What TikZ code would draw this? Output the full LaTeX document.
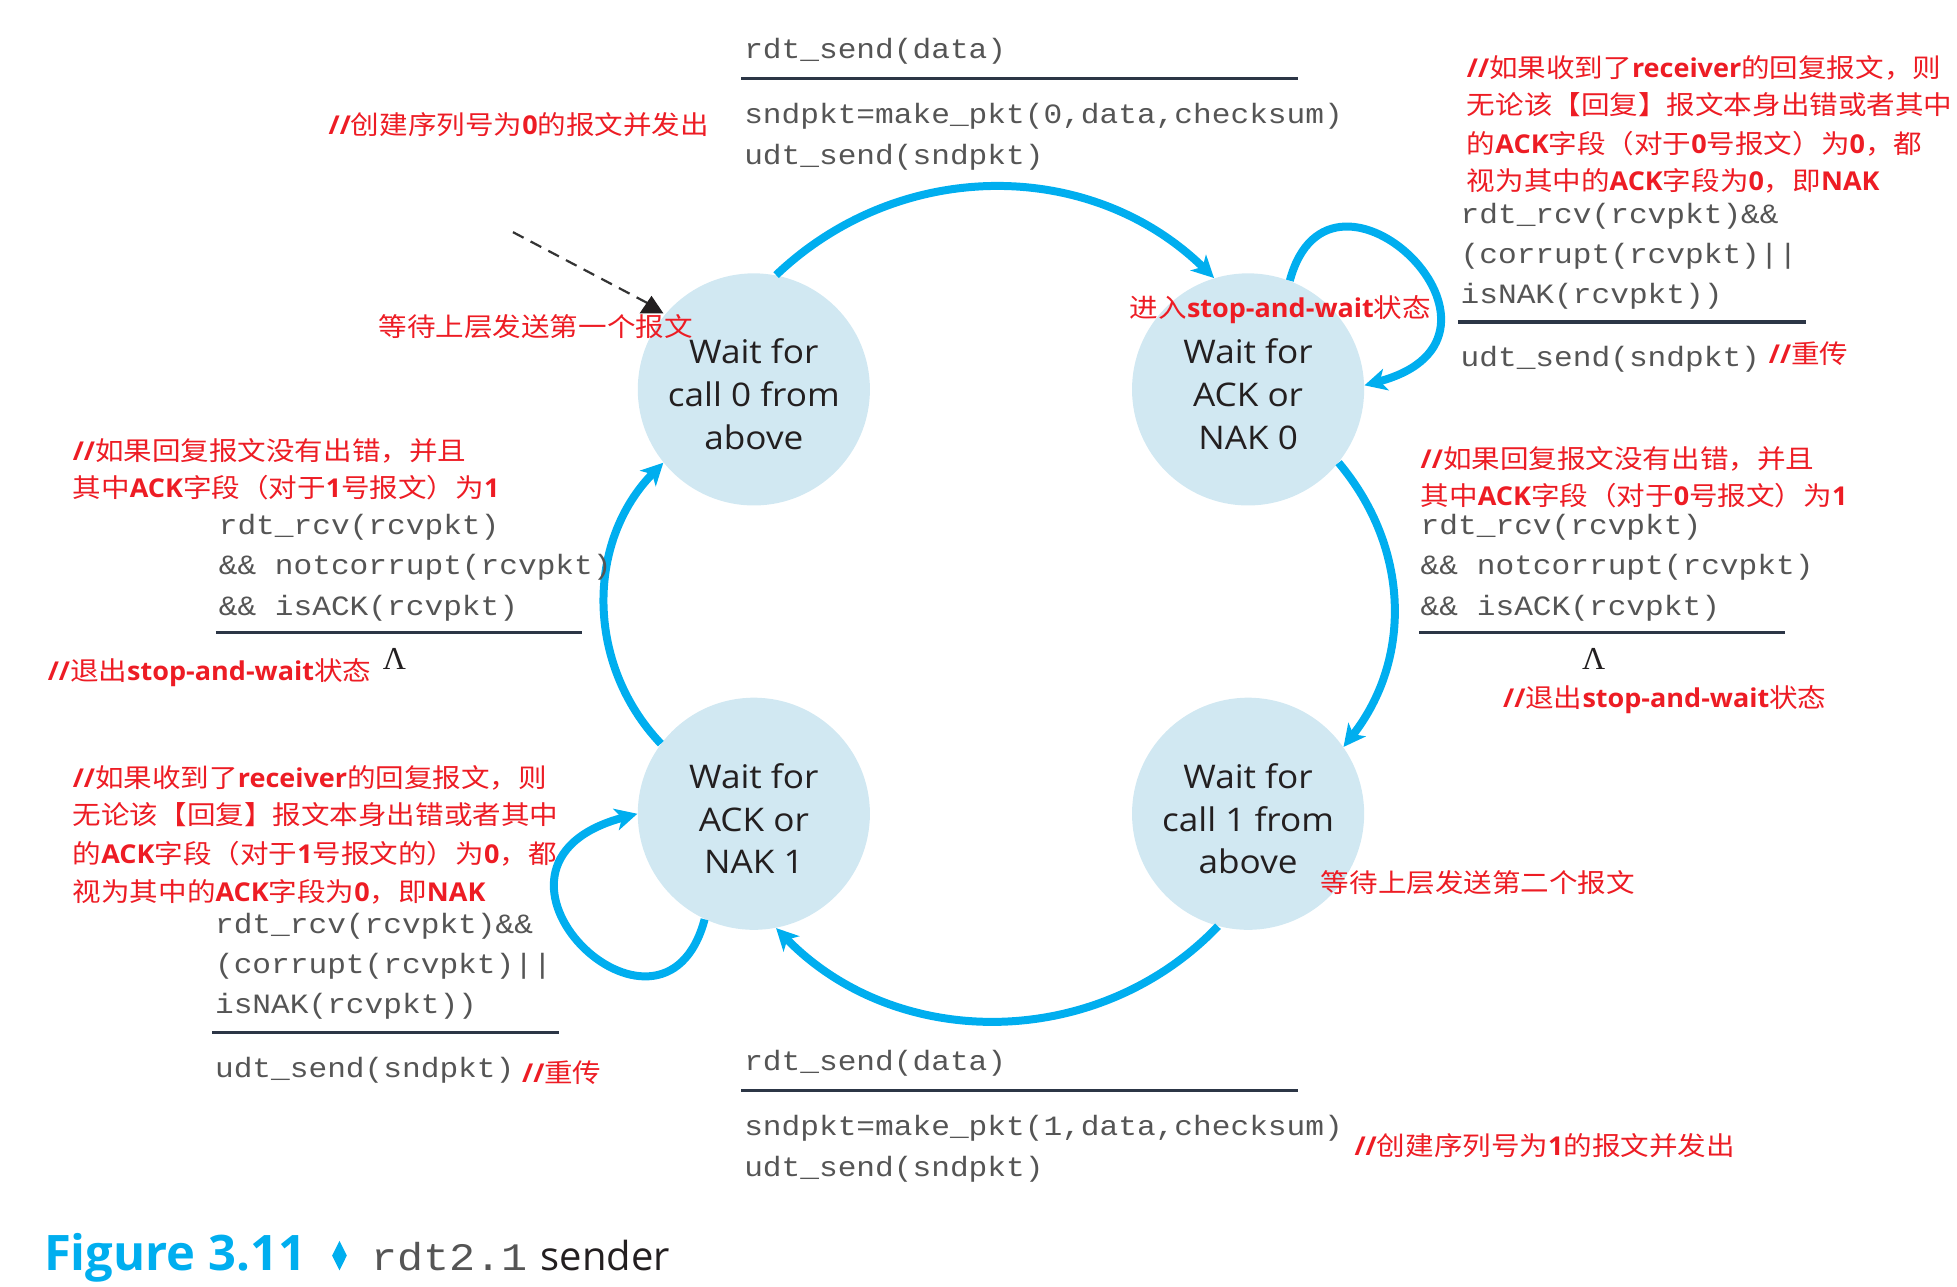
\documentclass[tikz,border=0pt]{standalone}
\usepackage{fontspec}
\usetikzlibrary{arrows.meta,shapes.geometric}
\setmainfont{Open Sans}
\newfontfamily\circfont{Open Sans}[FakeStretch=1.08]
\newfontfamily\codefont{Liberation Mono}[FakeStretch=1.115]
\newfontfamily\cjkfont{Noto Sans CJK SC}[FakeStretch=1.1]
\newfontfamily\latfont{Open Sans}[FakeStretch=1.04]
\newfontfamily\lamfont{Liberation Serif}
\newfontfamily\capfont{Open Sans}
\newcommand\lb[1]{{\latfont\bfseries #1}}
\newcommand\topstrut{\rule{0pt}{17.5pt}}
\definecolor{arcblue}{RGB}{0,174,239}
\definecolor{statefill}{RGB}{209,232,242}
\definecolor{statetext}{RGB}{35,31,32}
\definecolor{codegray}{RGB}{85,85,85}
\definecolor{rulecol}{RGB}{44,54,70}
\definecolor{notered}{RGB}{237,28,36}
\begin{document}
\begin{tikzpicture}[x=0.625pt,y=0.625pt,
  state/.style={circle, fill=statefill, minimum size=116.25pt, inner sep=0pt, align=center,
    text=statetext, font=\circfont\fontsize{16.3}{21.4}\selectfont},
  code/.style={anchor=base west, inner sep=0pt, text=codegray, font=\codefont\fontsize{14}{20}\selectfont},
  note/.style={anchor=base west, inner sep=0pt, text=notered, font=\cjkfont\fontsize{13}{18.75}\selectfont},
  lam/.style={inner sep=0pt, text=statetext, font=\lamfont\fontsize{16}{18}\selectfont},
  rule/.style={draw=rulecol, line width=1.6pt},
  trans/.style={draw=arcblue, line width=4pt, -{Stealth[length=11pt,width=11pt,inset=3pt]}},
  initline/.style={draw=black!80, line width=1.1pt, dash pattern=on 6pt off 4pt}]
\useasboundingbox (0,0) rectangle (1568,-1031);

% states
\node[state] (A) at (604,-312) {\topstrut Wait for\\call 0 from\\above};
\node[state] (B) at (1000,-312) {\topstrut Wait for\\ACK or\\NAK 0};
\node[state] (C) at (604,-652) {\topstrut Wait for\\ACK or\\NAK 1};
\node[state] (D) at (1000,-652) {\topstrut Wait for\\call 1 from\\above};

% transitions
\draw[trans] (A.79) to[bend left=44] (B.107);
\draw[trans] (B.-39) to[bend left=39] (D.35);
\draw[trans] (D.-105) to[bend left=46] (C.-79);
\draw[trans] (C.143) to[bend left=44] (A.-141);
\draw[trans] (B.69) .. controls +(75:125) and +(15:150) .. (B.2);
\draw[trans] (C.-115) .. controls +(-105:130) and +(195:160) .. (C.180);

% initial dashed arrow
\coordinate (init) at (411,-186);
\coordinate (inittip) at (521,-244);
\draw[initline] (init) -- (inittip);
\fill[statetext] (522,-237) -- (512.5,-251) -- (531.5,-251) -- cycle;

% top transition label
\node[code] (t1) at (596,-47) {rdt\_send(data)};
\draw[rule] (594,-63) -- (1040,-63);
\node[code] (t2) at (596,-99) {sndpkt=make\_pkt(0,data,checksum)};
\node[code] (t3) at (596,-132) {udt\_send(sndpkt)};
\node[note] (n1) at (263,-108) {\lb{//}创建序列号为\lb{0}的报文并发出};

% top-right self loop label
\node[note] (n2a) at (1175,-62) {\lb{//}如果收到了\lb{receiver}的回复报文，则};
\node[note] (n2b) at (1175,-92) {无论该【回复】报文本身出错或者其中};
\node[note] (n2c) at (1175,-123) {的\lb{ACK}字段（对于\lb{0}号报文）为\lb{0}，都};
\node[note] (n2d) at (1175,-153) {视为其中的\lb{ACK}字段为\lb{0}，即\lb{NAK}};
\node[code] (s1) at (1170,-179) {rdt\_rcv(rcvpkt)\&\&};
\node[code] (s2) at (1170,-211) {(corrupt(rcvpkt)||};
\node[code] (s3) at (1170,-243) {isNAK(rcvpkt))};
\draw[rule] (1168,-258) -- (1447,-258);
\node[code] (s4) at (1170,-294) {udt\_send(sndpkt)};
\node[note] (n3) at (1417,-291) {\lb{//}重传};
\node[note] (n4) at (905,-254) {进入\lb{stop-and-wait}状态};
\node[note] (n5) at (303,-270) {等待上层发送第一个报文};

% left transition label
\node[note] (n6a) at (58,-369) {\lb{//}如果回复报文没有出错，并且};
\node[note] (n6b) at (58,-399) {其中\lb{ACK}字段（对于\lb{1}号报文）为\lb{1}};
\node[code] (l1) at (175,-428) {rdt\_rcv(rcvpkt)};
\node[code] (l2) at (175,-460) {\&\& notcorrupt(rcvpkt)};
\node[code] (l3) at (175,-493) {\&\& isACK(rcvpkt)};
\draw[rule] (173,-507) -- (466,-507);
\node[lam] (lam1) at (316,-528) {Λ};
\node[note] (n7) at (38,-545) {\lb{//}退出\lb{stop-and-wait}状态};

% right transition label
\node[note] (n8a) at (1138,-375) {\lb{//}如果回复报文没有出错，并且};
\node[note] (n8b) at (1138,-405) {其中\lb{ACK}字段（对于\lb{0}号报文）为\lb{1}};
\node[code] (r1) at (1138,-428) {rdt\_rcv(rcvpkt)};
\node[code] (r2) at (1138,-460) {\&\& notcorrupt(rcvpkt)};
\node[code] (r3) at (1138,-493) {\&\& isACK(rcvpkt)};
\draw[rule] (1137,-507) -- (1430,-507);
\node[lam] (lam2) at (1277,-528) {Λ};
\node[note] (n9) at (1204,-567) {\lb{//}退出\lb{stop-and-wait}状态};

% lower-left self loop label
\node[note] (n10a) at (58,-631) {\lb{//}如果收到了\lb{receiver}的回复报文，则};
\node[note] (n10b) at (58,-661) {无论该【回复】报文本身出错或者其中};
\node[note] (n10c) at (58,-692) {的\lb{ACK}字段（对于\lb{1}号报文的）为\lb{0}，都};
\node[note] (n10d) at (58,-722) {视为其中的\lb{ACK}字段为\lb{0}，即\lb{NAK}};
\node[code] (c1) at (172,-748) {rdt\_rcv(rcvpkt)\&\&};
\node[code] (c2) at (172,-780) {(corrupt(rcvpkt)||};
\node[code] (c3) at (172,-812) {isNAK(rcvpkt))};
\draw[rule] (170,-827) -- (448,-827);
\node[code] (c4) at (172,-863) {udt\_send(sndpkt)};
\node[note] (n11) at (418,-867) {\lb{//}重传};
\node[note] (n12) at (1058,-715) {等待上层发送第二个报文};

% bottom transition label
\node[code] (b1) at (596,-858) {rdt\_send(data)};
\draw[rule] (594,-874) -- (1040,-874);
\node[code] (b2) at (596,-910) {sndpkt=make\_pkt(1,data,checksum)};
\node[code] (b3) at (596,-943) {udt\_send(sndpkt)};
\node[note] (n13) at (1085,-926) {\lb{//}创建序列号为\lb{1}的报文并发出};

% caption
\node[anchor=base west, inner sep=0pt, text=arcblue, font=\capfont\bfseries\fontsize{24.5}{28}\selectfont] (fig) at (35,-1018) {Figure 3.11};
\node[diamond, fill=arcblue, minimum width=7.5pt, minimum height=15pt, inner sep=0pt, aspect=0.5] (dia) at (272,-1006) {};
\node[anchor=base west, inner sep=0pt, text=codegray, font=\codefont\fontsize{19.5}{24}\selectfont] (cap1) at (297,-1018) {rdt2.1};
\node[anchor=base west, inner sep=0pt, text=statetext, font=\capfont\fontsize{20}{24}\selectfont] (cap2) at (433,-1018) {sender};
\end{tikzpicture}
\end{document}
